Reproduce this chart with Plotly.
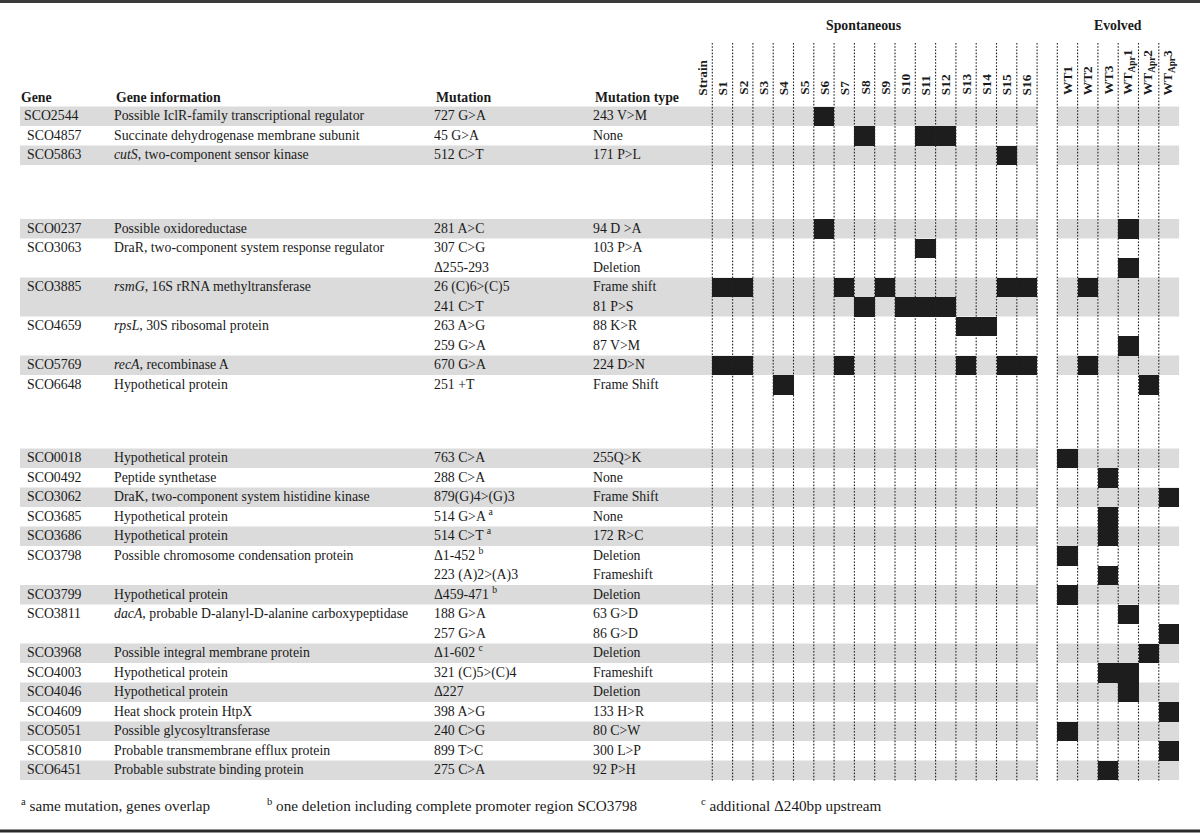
import plotly.graph_objects as go

# ---------------- data ----------------
strain_keys = ["S1", "S2", "S3", "S4", "S5", "S6", "S7", "S8", "S9", "S10", "S11", "S12",
               "S13", "S14", "S15", "S16", "WT1", "WT2", "WT3", "WTApr1", "WTApr2", "WTApr3"]
strain_labels = ["S1", "S2", "S3", "S4", "S5", "S6", "S7", "S8", "S9", "S10", "S11", "S12",
                 "S13", "S14", "S15", "S16", "WT1", "WT2", "WT3",
                 "WT<sub>Apr</sub>1", "WT<sub>Apr</sub>2", "WT<sub>Apr</sub>3"]
strain_group = ["Spontaneous"] * 16 + ["Evolved"] * 6

row_section = [0, 0, 0,
               1, 1, 1, 1, 1, 1, 1, 1, 1,
               2, 2, 2, 2, 2, 2, 2, 2, 2, 2, 2, 2, 2, 2, 2, 2, 2]

row_gene = ["SCO2544", "SCO4857", "SCO5863",
            "SCO0237", "SCO3063", "", "SCO3885", "", "SCO4659", "", "SCO5769", "SCO6648",
            "SCO0018", "SCO0492", "SCO3062", "SCO3685", "SCO3686", "SCO3798", "", "SCO3799",
            "SCO3811", "", "SCO3968", "SCO4003", "SCO4046", "SCO4609", "SCO5051", "SCO5810",
            "SCO6451"]

row_info = ["Possible IclR-family transcriptional regulator",
            "Succinate dehydrogenase membrane subunit",
            "<i>cutS</i>, two-component sensor kinase",
            "Possible oxidoreductase",
            "DraR, two-component system response regulator", "",
            "<i>rsmG</i>, 16S rRNA methyltransferase", "",
            "<i>rpsL</i>, 30S ribosomal protein", "",
            "<i>recA</i>, recombinase A",
            "Hypothetical protein",
            "Hypothetical protein",
            "Peptide synthetase",
            "DraK, two-component system histidine kinase",
            "Hypothetical protein",
            "Hypothetical protein",
            "Possible chromosome condensation protein", "",
            "Hypothetical protein",
            "<i>dacA</i>, probable D-alanyl-D-alanine carboxypeptidase", "",
            "Possible integral membrane protein",
            "Hypothetical protein",
            "Hypothetical protein",
            "Heat shock protein HtpX",
            "Possible glycosyltransferase",
            "Probable transmembrane efflux protein",
            "Probable substrate binding protein"]

row_mutation = ["727 G>A", "45 G>A", "512 C>T",
                "281 A>C", "307 C>G", "Δ255-293", "26 (C)6>(C)5", "241 C>T",
                "263 A>G", "259 G>A", "670 G>A", "251 +T",
                "763 C>A", "288 C>A", "879(G)4>(G)3", "514 G>A <sup>a</sup>",
                "514 C>T <sup>a</sup>", "Δ1-452 <sup>b</sup>", "223 (A)2>(A)3",
                "Δ459-471 <sup>b</sup>", "188 G>A", "257 G>A", "Δ1-602 <sup>c</sup>",
                "321 (C)5>(C)4", "Δ227", "398 A>G", "240 C>G", "899 T>C", "275 C>A"]

row_type = ["243 V>M", "None", "171 P>L",
            "94 D >A", "103 P>A", "Deletion", "Frame shift", "81 P>S",
            "88 K>R", "87 V>M", "224 D>N", "Frame Shift",
            "255Q>K", "None", "Frame Shift", "None", "172 R>C", "Deletion",
            "Frameshift", "Deletion", "63 G>D", "86 G>D", "Deletion", "Frameshift",
            "Deletion", "133 H>R", "80 C>W", "300 L>P", "92 P>H"]

row_hits = [["S6"], ["S8", "S11", "S12"], ["S15"],
            ["S6", "WTApr1"], ["S11"], ["WTApr1"],
            ["S1", "S2", "S7", "S9", "S15", "S16", "WT2"], ["S8", "S10", "S11", "S12"],
            ["S13", "S14"], ["WTApr1"],
            ["S1", "S2", "S7", "S13", "S15", "S16", "WT2"], ["S4", "WTApr2"],
            ["WT1"], ["WT3"], ["WTApr3"], ["WT3"], ["WT3"], ["WT1"], ["WT3"], ["WT1"],
            ["WTApr1"], ["WTApr3"], ["WTApr2"], ["WT3", "WTApr1"], ["WTApr1"],
            ["WTApr3"], ["WT1"], ["WTApr3"], ["WT3"]]

column_headers = ["Gene", "Gene information", "Mutation", "Mutation type"]
footnotes = ["<sup>a</sup> same mutation, genes overlap",
             "<sup>b</sup> one deletion including complete promoter region SCO3798",
             "<sup>c</sup> additional Δ240bp upstream"]

# ---------------- layout constants ----------------
FONT = "Liberation Serif"
TXT = "#1a1a1a"
GRAY = "#dbdbdb"
W, HGT = 1200, 833
ROW_H = 19.5
ROW_Y0 = 106.5
SEC_GAP = 54
COL_W = 20.3
SPON_X0 = 712.3
EVOL_X0 = 1057.3
BAND_X0 = 20
TEXT_SIZE = 13.8
COL_TEXT_X = [114, 434, 593]

n = len(row_gene)
tops = [ROW_Y0 + i * ROW_H + row_section[i] * SEC_GAP for i in range(n)]
mids = [t + ROW_H / 2 for t in tops]

col_left = []
for j, g in enumerate(strain_group):
    if g == "Spontaneous":
        col_left.append(SPON_X0 + j * COL_W)
    else:
        col_left.append(EVOL_X0 + (j - 16) * COL_W)
col_center = [x + COL_W / 2 for x in col_left]
spon_right = SPON_X0 + 16 * COL_W
evol_right = EVOL_X0 + 6 * COL_W

# shading: alternate per gene inside each section
shade = []
g = -1
prev = None
for i in range(n):
    if row_section[i] != prev:
        g = -1
        prev = row_section[i]
    if row_gene[i]:
        g += 1
    shade.append(g % 2 == 0)

fig = go.Figure()
shapes = []

# gray bands (merge contiguous shaded rows)
i = 0
while i < n:
    if shade[i]:
        k = i
        while k + 1 < n and shade[k + 1] and row_section[k + 1] == row_section[i]:
            k += 1
        y0, y1 = tops[i], tops[k] + ROW_H
        for xa, xb in [(BAND_X0, spon_right), (EVOL_X0, evol_right)]:
            shapes.append(dict(type="rect", xref="x", yref="y", x0=xa, x1=xb, y0=y0, y1=y1,
                               fillcolor=GRAY, line=dict(width=0), layer="below"))
        i = k + 1
    else:
        i += 1

# black mutation blocks
bx, bbase = [], []
for i, hits in enumerate(row_hits):
    for s in hits:
        j = strain_keys.index(s)
        bx.append(col_center[j])
        bbase.append(tops[i])
fig.add_trace(go.Bar(x=bx, y=[ROW_H] * len(bx), base=bbase, width=COL_W,
                     marker=dict(color="#1d1d1d", line=dict(width=0)),
                     hoverinfo="skip", showlegend=False))

# dotted vertical lines
line_top, line_bot = 43, tops[-1] + ROW_H + 1.5
vxs = [SPON_X0 + k * COL_W for k in range(17)] + [EVOL_X0 + k * COL_W for k in range(6)]
for x in vxs:
    shapes.append(dict(type="line", xref="x", yref="y", x0=x, x1=x, y0=line_top, y1=line_bot,
                       line=dict(color="#222222", width=1.1, dash="1.6px,1.6px"), layer="above"))

# top and bottom rules
shapes.append(dict(type="line", xref="paper", yref="y", x0=0, x1=1, y0=1.5, y1=1.5,
                   line=dict(color="#3a3a3a", width=3)))
shapes.append(dict(type="line", xref="paper", yref="y", x0=0, x1=1, y0=831, y1=831,
                   line=dict(color="#2a2a2a", width=3)))

# body text columns (skip blank continuation cells)
gene_x = [24 if i == 0 else 27 for i in range(n)]
cols = [(gene_x, row_gene), ([COL_TEXT_X[0]] * n, row_info),
        ([COL_TEXT_X[1]] * n, row_mutation), ([COL_TEXT_X[2]] * n, row_type)]
for xs, texts in cols:
    keep = [i for i in range(n) if texts[i]]
    fig.add_trace(go.Scatter(x=[xs[i] for i in keep], y=[mids[i] + 0.5 for i in keep],
                             text=[texts[i] for i in keep], mode="text",
                             textposition="middle right",
                             textfont=dict(family=FONT, size=TEXT_SIZE, color=TXT),
                             hoverinfo="skip", showlegend=False, cliponaxis=False))

annotations = []
hdr_x = [19] + COL_TEXT_X
for x, t in zip(hdr_x, column_headers):
    annotations.append(dict(x=x, y=97, xref="x", yref="y", text=t, showarrow=False,
                            xanchor="left", yanchor="middle",
                            font=dict(family=FONT, size=TEXT_SIZE, color=TXT, weight="bold")))

# rotated strain headers
annotations.append(dict(x=SPON_X0 - COL_W / 2 - 0.5, y=98, xref="x", yref="y", text="Strain",
                        textangle=-90, showarrow=False, xanchor="center", yanchor="bottom",
                        font=dict(family=FONT, size=13.4, color=TXT, weight="bold")))
for j, lab in enumerate(strain_labels):
    annotations.append(dict(x=col_center[j], y=97, xref="x", yref="y", text=lab,
                            textangle=-90, showarrow=False, xanchor="center", yanchor="bottom",
                            font=dict(family=FONT, size=13.4, color=TXT, weight="bold")))

annotations.append(dict(x=864, y=25, xref="x", yref="y", text="Spontaneous", showarrow=False,
                        xanchor="center", yanchor="middle",
                        font=dict(family=FONT, size=13.8, color=TXT, weight="bold")))
annotations.append(dict(x=(EVOL_X0 + evol_right) / 2, y=25, xref="x", yref="y", text="Evolved",
                        showarrow=False, xanchor="center", yanchor="middle",
                        font=dict(family=FONT, size=13.8, color=TXT, weight="bold")))

for x, t in zip([19, 265, 699], footnotes):
    annotations.append(dict(x=x, y=805, xref="x", yref="y", text=t, showarrow=False,
                            xanchor="left", yanchor="middle",
                            font=dict(family=FONT, size=15.2, color=TXT)))

fig.update_layout(
    width=W, height=HGT, margin=dict(l=0, r=0, t=0, b=0),
    paper_bgcolor="white", plot_bgcolor="white",
    xaxis=dict(range=[0, W], visible=False, fixedrange=True),
    yaxis=dict(range=[HGT, 0], visible=False, fixedrange=True),
    barmode="overlay", bargap=0, showlegend=False,
    shapes=shapes, annotations=annotations,
)

fig.write_html("out.html", config={"displayModeBar": False},
               post_script="document.body.style.margin='0';document.body.style.overflow='hidden';")
